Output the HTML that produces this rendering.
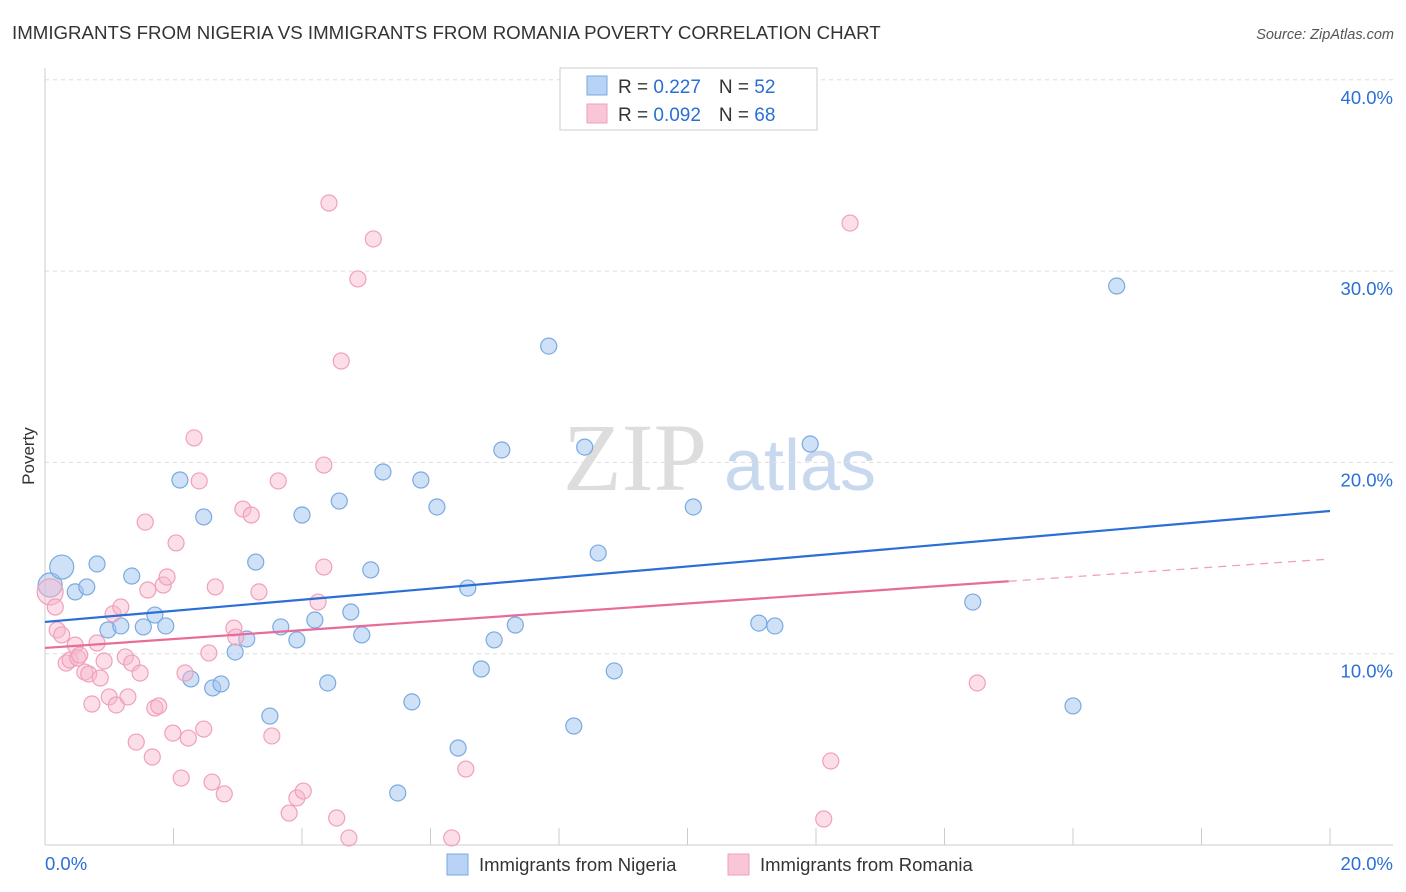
<!DOCTYPE html>
<html><head><meta charset="utf-8"><style>
body{margin:0;background:#fff;font-family:"Liberation Sans",sans-serif;}
#c{position:absolute;left:0;top:0;}
</style></head><body>
<svg id="c" width="1406" height="892" xmlns="http://www.w3.org/2000/svg">
<text x="12" y="39" font-size="18.7" fill="#333">IMMIGRANTS FROM NIGERIA VS IMMIGRANTS FROM ROMANIA POVERTY CORRELATION CHART</text>
<text x="1394" y="39" font-size="14.5" fill="#555" font-style="italic" text-anchor="end">Source: ZipAtlas.com</text>
<text x="34" y="456" font-size="17" fill="#333" transform="rotate(-90 34 456)" text-anchor="middle">Poverty</text>
<g>
<text x="635" y="490" font-size="96" font-family="Liberation Serif,serif" fill="#ddd" text-anchor="middle">ZIP</text>
<text x="800" y="490" font-size="72" fill="#c8d8ee" text-anchor="middle">atlas</text>
</g>
<g id="grid"></g><g id="axes"></g><g id="pts"></g><g id="lines"></g>
<g>
<rect x="560" y="68" width="257" height="62" fill="#fff" stroke="#ccc"/>
<rect x="587" y="76" width="20" height="19" fill="#b8d3f5" stroke="#7aaae0"/>
<rect x="587" y="104" width="20" height="19" fill="#f9c6d6" stroke="#f0a0bb"/>
<text x="618" y="93" font-size="19" fill="#333">R = <tspan fill="#2a6fd6">0.227</tspan><tspan dx="18">N = </tspan><tspan fill="#2a6fd6">52</tspan></text>
<text x="618" y="121" font-size="19" fill="#333">R = <tspan fill="#2a6fd6">0.092</tspan><tspan dx="18">N = </tspan><tspan fill="#2a6fd6">68</tspan></text>
</g>
<g>
<rect x="447" y="854" width="21" height="21" fill="#b8d3f5" stroke="#7aaae0"/>
<text x="479" y="871" font-size="18.5" fill="#333">Immigrants from Nigeria</text>
<rect x="728" y="854" width="21" height="21" fill="#f9c6d6" stroke="#f0a0bb"/>
<text x="760" y="871" font-size="18.5" fill="#333">Immigrants from Romania</text>
</g>
</svg>
<script>
const xTicks=[0,2,4,6,8,10,12,14,16,18,20];
const yTicks=[10,20,30,40];
const nigeriaX=[0.08,0.26,0.47,0.65,0.81,0.98,1.18,1.35,1.53,1.71,1.88,2.10,2.27,2.47,2.61,2.74,2.96,3.14,3.28,3.50,3.67,3.92,4.00,4.20,4.40,4.58,4.76,4.93,5.07,5.26,5.49,5.71,5.85,6.10,6.43,6.58,6.79,6.99,7.11,7.32,7.84,8.23,8.40,8.61,8.86,10.09,11.11,11.36,11.91,14.44,16.00,16.68];
const nigeriaY=[13.59,14.53,13.23,13.49,14.69,11.24,11.45,14.06,11.40,12.02,11.45,19.08,8.68,17.15,8.21,8.42,10.09,10.77,14.79,6.74,11.40,10.72,17.25,11.76,8.47,17.98,12.18,10.98,14.38,19.50,2.72,7.48,19.08,17.67,5.07,13.43,9.20,10.72,20.65,11.50,26.08,6.22,20.80,15.26,9.10,17.67,11.60,11.45,20.96,12.70,7.27,29.22];
const romaniaX=[0.08,0.16,0.19,0.26,0.33,0.39,0.47,0.51,0.54,0.62,0.68,0.73,0.81,0.86,0.92,1.00,1.06,1.11,1.18,1.25,1.29,1.35,1.42,1.48,1.56,1.60,1.67,1.71,1.77,1.84,1.90,1.99,2.04,2.12,2.18,2.23,2.32,2.40,2.47,2.55,2.60,2.65,2.79,2.94,2.97,3.08,3.21,3.33,3.53,3.63,3.80,3.92,4.02,4.25,4.34,4.34,4.42,4.54,4.61,4.73,4.87,5.11,6.33,6.55,12.12,12.23,12.53,14.51];
const romaniaY=[13.23,12.44,11.24,10.98,9.51,9.67,10.45,9.78,9.93,9.04,8.94,7.37,10.56,8.73,9.62,7.74,12.08,7.32,12.44,9.83,7.74,9.51,5.38,8.99,16.88,13.33,4.60,7.16,7.27,13.59,14.01,5.85,15.79,3.50,8.99,5.59,21.28,19.03,6.06,10.04,3.29,13.49,2.67,11.34,10.87,17.56,17.25,13.23,5.70,19.03,1.67,2.46,2.82,12.70,19.86,14.53,33.56,1.41,25.30,0.37,29.59,31.68,0.37,3.97,1.36,4.39,32.51,8.47];
const nigeriaTrend=[11.66,17.46];
const romaniaTrend=[10.30,14.95];
const romaniaSolidEnd=15.0;
const NS="http://www.w3.org/2000/svg";
const X=v=>45+v*64.25, Y=v=>845-v*19.13;
function mk(t,a,p){const e=document.createElementNS(NS,t);for(const k in a)e.setAttribute(k,a[k]);p.appendChild(e);return e;}
const grid=document.getElementById('grid'),axes=document.getElementById('axes'),pts=document.getElementById('pts'),lines=document.getElementById('lines');
yTicks.forEach(t=>{
const l=mk('line',{x1:45,x2:1393,y1:Y(t),y2:Y(t),stroke:'#ddd','stroke-dasharray':'4,4'},grid);


const tx=mk('text',{x:1393,y:Y(t)+24,'font-size':18.5,fill:'#2a6fd6','text-anchor':'end'},grid);tx.textContent=t.toFixed(1)+'%';


});
mk('line',{x1:45,x2:45,y1:68,y2:845,stroke:'#ccc'},axes);
mk('line',{x1:45,x2:1393,y1:845,y2:845,stroke:'#ccc'},axes);
xTicks.forEach(t=>{const l=mk('line',{x1:X(t),x2:X(t),y1:828,y2:845,stroke:'#ccc'},axes);

});
[[0,'start',45],[20,'end',1393]].forEach(([t,a,px])=>{const tx=mk('text',{x:px,y:870,'font-size':18.5,fill:'#2a6fd6','text-anchor':a},axes);tx.textContent=t.toFixed(1)+'%';

});
nigeriaX.forEach((v,i)=>{const c=mk('circle',{cx:X(v),cy:Y(nigeriaY[i]),r:i<2?12:8,fill:'rgba(160,196,240,0.5)',stroke:'#7aaae0','stroke-width':1.2},pts);

});
romaniaX.forEach((v,i)=>{const c=mk('circle',{cx:X(v),cy:Y(romaniaY[i]),r:i<1?13:8,fill:'rgba(246,182,204,0.45)',stroke:'#f0a0bb','stroke-width':1.2},pts);

});
const nl=mk('line',{x1:X(0),y1:Y(nigeriaTrend[0]),x2:X(20),y2:Y(nigeriaTrend[1]),stroke:'#2a6fd6','stroke-width':2.2},lines);


const ry=x=>romaniaTrend[0]+(romaniaTrend[1]-romaniaTrend[0])*x/20;
const rl=mk('line',{x1:X(0),y1:Y(ry(0)),x2:X(romaniaSolidEnd),y2:Y(ry(romaniaSolidEnd)),stroke:'#e86b9a','stroke-width':2.2},lines);


const rd=mk('line',{x1:X(romaniaSolidEnd),y1:Y(ry(romaniaSolidEnd)),x2:X(20),y2:Y(ry(20)),stroke:'#f0a0bb','stroke-width':1.3,'stroke-dasharray':'8,6'},lines);


</script>
</body></html>
